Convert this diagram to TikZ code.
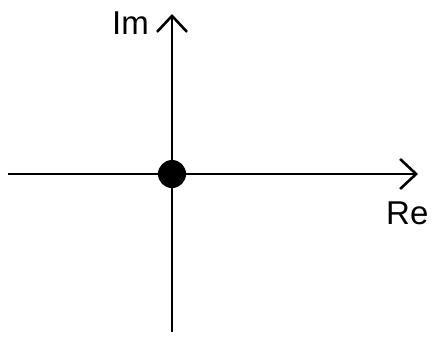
\documentclass[tikz,border=0pt]{standalone}
\usepackage{fontspec}
\setmainfont{Liberation Sans}
\usetikzlibrary{arrows.meta}
\begin{document}
\begin{tikzpicture}[x=1pt,y=-1pt,
  axis/.style={line width=2.6pt,-{Straight Barb[length=16pt,width=30pt,line width=2.6pt]}},
  lbl/.style={font=\fontsize{33}{36}\selectfont,inner sep=0pt,anchor=base west},
  dot/.style={circle,fill=black,minimum size=28pt,inner sep=0pt}]
\useasboundingbox (0,0) rectangle (433,338);
\node[dot] (o) at (172,174) {};
\coordinate (xl) at (8,174);
\coordinate (xr) at (418,174);
\coordinate (yb) at (172,332);
\coordinate (yt) at (172,14);
\draw[axis] (xl) -- (xr);
\draw[axis] (yb) -- (yt);
\node[lbl] (im) at (112,34) {Im};
\node[lbl] (re) at (386,224) {Re};
\end{tikzpicture}
\end{document}
